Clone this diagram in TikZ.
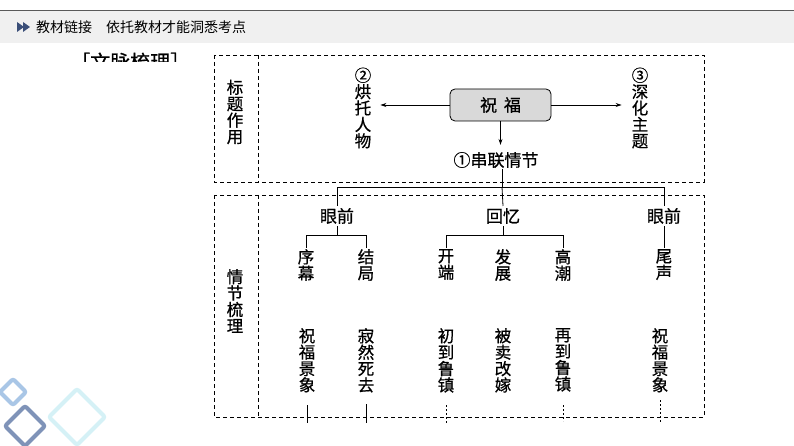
\documentclass[tikz,border=0pt]{standalone}
\usepackage{fontspec}
\setmainfont{Noto Sans CJK SC}
\newfontfamily\heavy{Noto Sans CJK SC}[FakeBold=0.7]
\usetikzlibrary{arrows.meta}
\tikzset{
  every node/.style={inner sep=2pt},
  txt/.style={font=\heavy\fontsize{17}{17}\selectfont, align=center},
  vtxt/.style={font=\heavy\fontsize{16.5}{16.4}\selectfont, align=center, inner sep=1pt},
  line/.style={line width=0.8pt, black},
  arr/.style={line width=0.8pt, -{Stealth[length=6pt,width=4pt]}},
  frame/.style={line width=0.8pt, dash pattern=on 4pt off 3pt},
  tick/.style={line width=0.8pt, dash pattern=on 2pt off 2pt},
  gem/.style={line width=4pt, rounded corners=2pt, line join=round}
}
\definecolor{gemA}{HTML}{A9C6E6}
\definecolor{gemB}{HTML}{7F93B8}
\definecolor{gemC}{HTML}{D5F1F6}
\definecolor{boxfill}{HTML}{D9D9D9}
\definecolor{iconc}{HTML}{3A4E78}
\begin{document}
\begin{tikzpicture}[x=1pt,y=-1pt]
\useasboundingbox (0,0) rectangle (794,446);
% header
\fill[black!6] (0,11) rectangle (794,43);
\draw[black!65, line width=1pt] (0,10.5) -- (794,10.5);
\fill[iconc] (17,22) -- (24,27) -- (17,32) -- cycle;
\fill[iconc] (23,22) -- (30,27) -- (23,32) -- cycle;
\node[anchor=west, font=\fontsize{14}{14}\selectfont, inner sep=0pt] (hd) at (36,27) {教材链接\quad 依托教材才能洞悉考点};
% clipped title
\begin{scope}
\clip (60,44) rectangle (200,62);
\node[anchor=west, font=\heavy\fontsize{20}{20}\selectfont, inner sep=0pt] (tt) at (70,62) {［文脉梳理］};
\end{scope}
% frames
\draw[frame] (214,55) rectangle (704,182);
\draw[frame] (258,55) -- (258,182);
\draw[frame] (214,195) rectangle (704,417);
\draw[frame] (258,195) -- (258,417);
\node[vtxt] (bt) at (235,112) {标\\题\\作\\用};
\node[vtxt] (qj) at (235,301) {情\\节\\梳\\理};
% top part
\node[txt, draw, line width=0.8pt, fill=boxfill, rounded corners=5pt, minimum width=101pt, minimum height=32pt] (zf) at (500.5,105) {祝\hspace{0.4em}福};
\node[vtxt] (l2) at (363,108) {②\\烘\\托\\人\\物};
\node[vtxt] (l3) at (640,108) {③\\深\\化\\主\\题};
\node[txt] (c1) at (496,160) {①串联情节};
\draw[arr, shorten >=8pt] (zf.west) -- (l2.east |- zf.west);
\draw[arr, shorten >=9pt] (zf.east) -- (l3.west |- zf.east);
\draw[arr, shorten >=5pt] (zf.south) -- (zf.south |- c1.north);
% row 1
\node[txt] (ep1) at (337,216) {眼前};
\node[txt] (hy) at (503,216) {回忆};
\node[txt] (ep2) at (664,216) {眼前};
\coordinate (bar) at (502,187);
\draw[line] (502,169) -- (bar);
\draw[line] (ep1.north) -- (ep1.north |- bar) -- (ep2.north |- bar) -- (ep2.north);
\draw[line] (bar) -- (hy.north);
% row 2
\node[vtxt, anchor=north] (xm) at (306,248) {序\\幕};
\node[vtxt, anchor=north] (jj) at (366,248) {结\\局};
\node[vtxt, anchor=north] (kd) at (446,248) {开\\端};
\node[vtxt, anchor=north] (fz) at (503,248) {发\\展};
\node[vtxt, anchor=north] (gc) at (563,248) {高\\潮};
\node[vtxt, anchor=north] (ws) at (664,248) {尾\\声};
\draw[line] (ep1.south) -- ++(0,9) coordinate (e1) -| (xm.north);
\draw[line] (e1) -| (jj.north);
\draw[line] (hy.south) -- ++(0,9) coordinate (h1) -| (kd.north);
\draw[line] (h1) -| (gc.north);
\draw[line] (ep2.south) -- (ws.north);
% row 3
\node[vtxt, anchor=north] (r1) at (307,327) {祝\\福\\景\\象};
\node[vtxt, anchor=north] (r2) at (366,327) {寂\\然\\死\\去};
\node[vtxt, anchor=north] (r3) at (446,327) {初\\到\\鲁\\镇};
\node[vtxt, anchor=north] (r4) at (503,327) {被\\卖\\改\\嫁};
\node[vtxt, anchor=north] (r5) at (563,327) {再\\到\\鲁\\镇};
\node[vtxt, anchor=north] (r6) at (660,327) {祝\\福\\景\\象};
\coordinate (t1) at (r1.south |- 0,423);
\coordinate (t2) at (r2.south |- 0,423);
\coordinate (t3) at (r3.south |- 0,423);
\coordinate (t5) at (r5.south |- 0,421);
\coordinate (t6) at (r6.south |- 0,422);
\draw[line] (r1.south |- 0,405) -- (t1);
\draw[line] (r2.south |- 0,404) -- (t2);
\draw[tick] (r3.south |- 0,405) -- (t3);
\draw[tick] (r5.south |- 0,405) -- (t5);
\draw[tick] (r6.south |- 0,400) -- (t6);
% decorative gems
\draw[gem, gemC] (77,389) -- (105,417) -- (77,445) -- (49,417) -- cycle;
\draw[gem, gemA] (13,379) -- (26,392) -- (13,405) -- (0,392) -- cycle;
\draw[gem, gemB] (25,406) -- (45,426) -- (25,446) -- (5,426) -- cycle;
\end{tikzpicture}
\end{document}
